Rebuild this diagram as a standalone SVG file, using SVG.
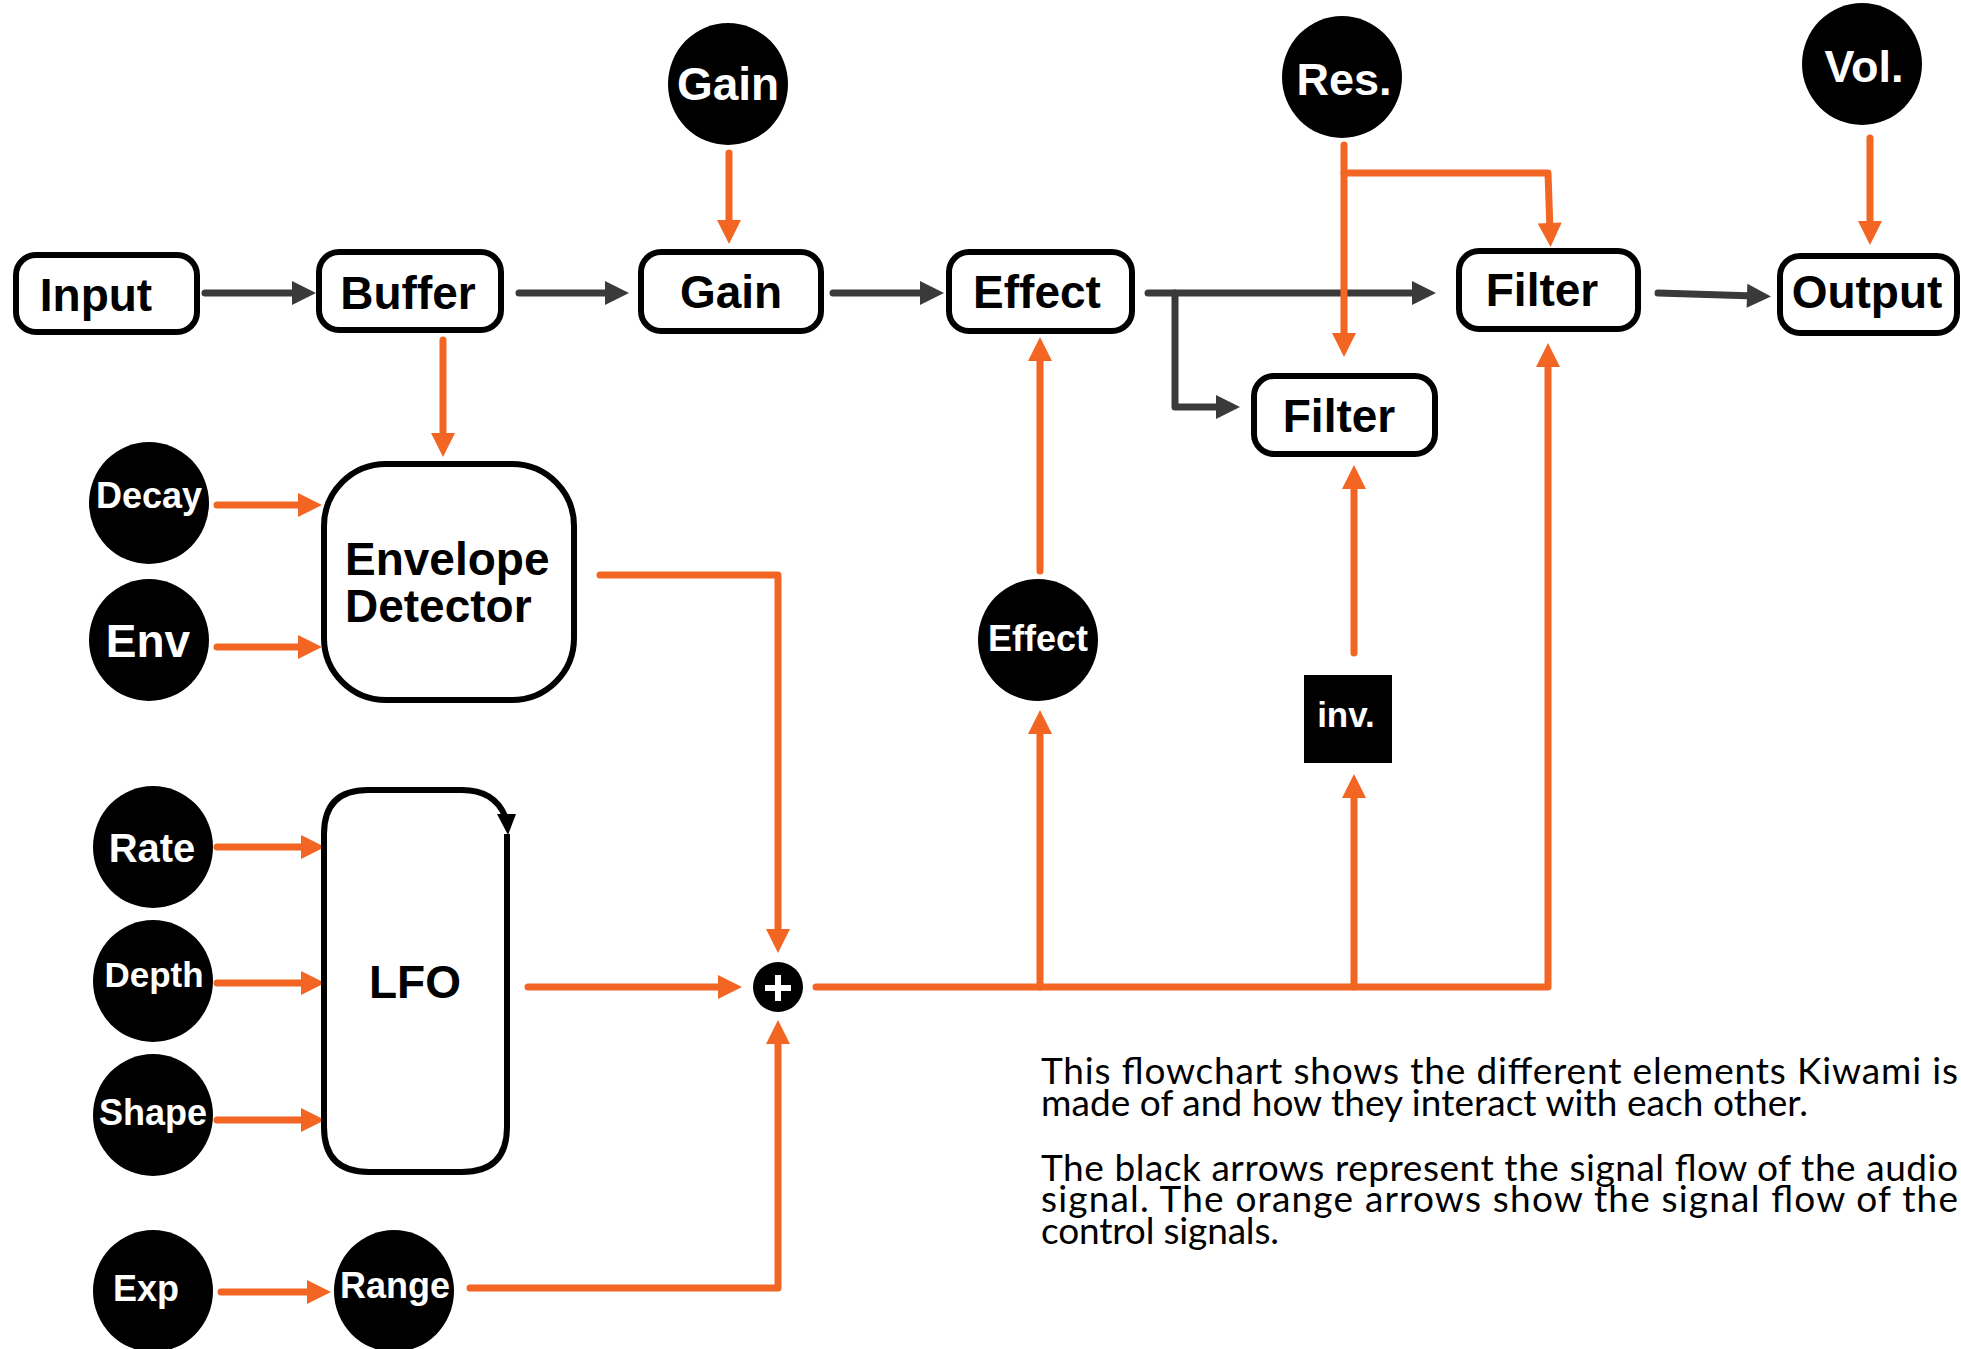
<svg xmlns="http://www.w3.org/2000/svg" width="1961" height="1349" viewBox="0 0 1961 1349">
<style>
.box{fill:#fff;stroke:#000;stroke-width:6}
.knob{fill:#000}
.bl{font-family:"Liberation Sans",Arial,sans-serif;font-weight:bold;fill:#000;text-anchor:middle}
.wl{font-family:"Liberation Sans",Arial,sans-serif;font-weight:bold;fill:#fff;text-anchor:middle}
.audio{fill:none;stroke:#3a3a3a;stroke-width:7;stroke-linecap:round;stroke-linejoin:round;marker-end:url(#ah)}
.ctl{fill:none;stroke:#f26522;stroke-width:7;stroke-linecap:round;stroke-linejoin:round;marker-end:url(#oh)}
.desc{font-family:Lato,"Liberation Sans",sans-serif;font-size:37px;fill:#000}
</style>
<defs>
<marker id="ah" markerUnits="userSpaceOnUse" markerWidth="26" markerHeight="26" refX="8" refY="12" orient="auto" overflow="visible"><path d="M0,0 L24,12 L0,24 z" fill="#3a3a3a"/></marker>
<marker id="oh" markerUnits="userSpaceOnUse" markerWidth="26" markerHeight="26" refX="8" refY="12" orient="auto" overflow="visible"><path d="M0,0 L24,12 L0,24 z" fill="#f26522"/></marker>
</defs>
<rect width="1961" height="1349" fill="#fff"/>

<g id="connectors">
<path class="audio" d="M205,293 H300"/>
<path class="audio" d="M519,293 H613"/>
<path class="audio" d="M833,293 H928"/>
<path class="audio" d="M1148,293 H1420"/>
<path class="audio" d="M1175,293 V407 H1224"/>
<path class="audio" d="M1658,293 L1755,296"/>
<path class="ctl" d="M729,153 V228"/>
<path class="ctl" d="M443,340 V441"/>
<path class="ctl" d="M217,505 H306"/>
<path class="ctl" d="M217,647 H306"/>
<path class="ctl" d="M600,575 H778 V937"/>
<path class="ctl" d="M217,847 H309"/>
<path class="ctl" d="M217,983 H309"/>
<path class="ctl" d="M217,1120 H309"/>
<path class="ctl" d="M528,987 H726"/>
<path class="ctl" d="M221,1292 H315"/>
<path class="ctl" d="M470,1288 H778 V1036"/>
<path class="ctl" d="M816,987 H1548 V359"/>
<path class="ctl" d="M1040,987 V726"/>
<path class="ctl" d="M1040,571 V353"/>
<path class="ctl" d="M1354,987 V790"/>
<path class="ctl" d="M1354,653 V481"/>
<path class="ctl" d="M1344,145 V341"/>
<path class="ctl" d="M1344,173 H1548 L1550,231"/>
<path class="ctl" d="M1870,138 V229"/>
</g>

<g id="input"><rect class="box" x="16" y="255" width="181" height="77" rx="20"/><text class="bl" x="96" y="311" font-size="46">Input</text></g>
<g id="buffer"><rect class="box" x="319" y="252" width="182" height="78" rx="20"/><text class="bl" x="408" y="309" font-size="46">Buffer</text></g>
<g id="gain"><rect class="box" x="641" y="252" width="180" height="79" rx="20"/><text class="bl" x="731" y="308" font-size="46">Gain</text></g>
<g id="effect"><rect class="box" x="949" y="252" width="183" height="79" rx="20"/><text class="bl" x="1037" y="308" font-size="46">Effect</text></g>
<g id="filter1"><rect class="box" x="1459" y="251" width="179" height="78" rx="20"/><text class="bl" x="1542" y="306" font-size="46">Filter</text></g>
<g id="output"><rect class="box" x="1780" y="256" width="177" height="77" rx="20"/><text class="bl" x="1867" y="308" font-size="46">Output</text></g>
<g id="filter2"><rect class="box" x="1254" y="376" width="181" height="78" rx="20"/><text class="bl" x="1339" y="432" font-size="46">Filter</text></g>

<g id="envelope"><rect class="box" x="324" y="464" width="250" height="236" rx="62"/><text x="345" y="575" font-size="46" font-family="Liberation Sans,Arial,sans-serif" font-weight="bold">Envelope</text><text x="345" y="622" font-size="46" font-family="Liberation Sans,Arial,sans-serif" font-weight="bold">Detector</text></g>

<g id="lfo"><path d="M507,834 V1127 Q507,1172 462,1172 H369 Q324,1172 324,1127 V834 Q324,790 368,790 H462 Q494,790 505,816" fill="#fff" stroke="#000" stroke-width="6" stroke-linejoin="round"/><path d="M497,814 L516,814 L508,835 z" fill="#000"/><text class="bl" x="415" y="998" font-size="46">LFO</text></g>

<g id="sum"><circle cx="778" cy="987" r="25" fill="#000"/><path d="M765,988 H791 M778,975 V1001" stroke="#fff" stroke-width="6"/></g>

<g id="k-gain"><ellipse class="knob" cx="728" cy="84" rx="60" ry="61"/><text class="wl" x="728" y="100" font-size="46">Gain</text></g>
<g id="k-res"><ellipse class="knob" cx="1342" cy="77" rx="60" ry="61"/><text class="wl" x="1344" y="95" font-size="45">Res.</text></g>
<g id="k-vol"><ellipse class="knob" cx="1862" cy="64" rx="60" ry="61"/><text class="wl" x="1864" y="82" font-size="45">Vol.</text></g>
<g id="k-decay"><ellipse class="knob" cx="149" cy="503" rx="60" ry="61"/><text class="wl" x="149" y="508" font-size="36">Decay</text></g>
<g id="k-env"><ellipse class="knob" cx="149" cy="640" rx="60" ry="61"/><text class="wl" x="148" y="657" font-size="46">Env</text></g>
<g id="k-rate"><ellipse class="knob" cx="153" cy="847" rx="60" ry="61"/><text class="wl" x="152" y="862" font-size="40">Rate</text></g>
<g id="k-depth"><ellipse class="knob" cx="153" cy="981" rx="60" ry="61"/><text class="wl" x="154" y="987" font-size="35">Depth</text></g>
<g id="k-shape"><ellipse class="knob" cx="153" cy="1115" rx="60" ry="61"/><text class="wl" x="153" y="1125" font-size="36">Shape</text></g>
<g id="k-exp"><ellipse class="knob" cx="153" cy="1291" rx="60" ry="61"/><text class="wl" x="146" y="1301" font-size="36">Exp</text></g>
<g id="k-range"><ellipse class="knob" cx="394" cy="1291" rx="60" ry="61"/><text class="wl" x="395" y="1298" font-size="36">Range</text></g>
<g id="k-effect"><ellipse class="knob" cx="1038" cy="640" rx="60" ry="61"/><text class="wl" x="1038" y="651" font-size="36">Effect</text></g>
<g id="inv"><rect x="1304" y="675" width="88" height="88" fill="#000"/><text class="wl" x="1346" y="727" font-size="35">inv.</text></g>

<g id="description">
<text class="desc" x="1041" y="1084" textLength="917" lengthAdjust="spacing">This flowchart shows the different elements Kiwami is</text>
<text class="desc" x="1041" y="1116" textLength="767" lengthAdjust="spacing">made of and how they interact with each other.</text>
<text class="desc" x="1041" y="1181" textLength="917" lengthAdjust="spacing">The black arrows represent the signal flow of the audio</text>
<text class="desc" x="1041" y="1212" textLength="917" lengthAdjust="spacing">signal. The orange arrows show the signal flow of the</text>
<text class="desc" x="1041" y="1244" textLength="238" lengthAdjust="spacing">control signals.</text>
</g>
</svg>
